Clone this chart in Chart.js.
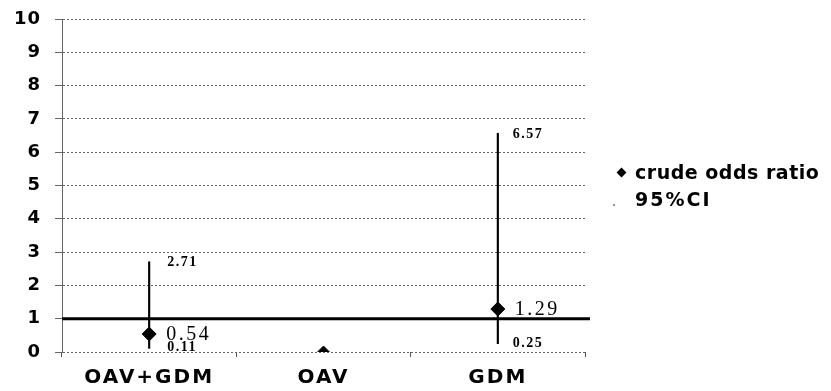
<!DOCTYPE html>
<html>
<head>
<meta charset="utf-8">
<script src="https://cdn.jsdelivr.net/npm/chart.js@4.4.1/dist/chart.umd.min.js"></script>
<style>
  html, body { margin:0; padding:0; background:#fff; }
  #wrap { position:relative; width:831px; height:391px; }
  canvas { position:absolute; left:0; top:0; }
  .leg { position:absolute; font-family:"DejaVu Sans", sans-serif; font-weight:bold; font-size:19px; line-height:22px; color:#000; white-space:nowrap; }
  .dia { position:absolute; width:7px; height:7px; background:#000; transform:rotate(45deg); }
  .dot { position:absolute; width:2px; height:2px; background:#999; }
</style>
</head>
<body>
<div id="wrap">
  <canvas id="c" width="831" height="391"></canvas>
  <div class="dia" style="left:618px; top:169px;"></div>
  <div class="leg" id="leg1" style="left:635px; top:161px; letter-spacing:0.5px;"></div>
  <div class="dot" style="left:613px; top:204px;"></div>
  <div class="leg" id="leg2" style="left:635px; top:188px; letter-spacing:2px;"></div>
</div>
<script>
const categories = ["OAV+GDM", "OAV", "GDM"];
const oddsRatio = [0.54, 0, 1.29];
const ciLower = [0.11, null, 0.25];
const ciUpper = [2.71, null, 6.57];
const referenceValue = 1;
const yTicks = [0,1,2,3,4,5,6,7,8,9,10];
const legendLabels = ["crude odds ratio", "95%CI"];

document.getElementById('leg1').textContent = legendLabels[0];
document.getElementById('leg2').textContent = legendLabels[1];

const ciData = categories.map((c, i) => ciLower[i] === null ? null : [ciLower[i], ciUpper[i]]);

const refLinePlugin = {
  id: 'refLine',
  afterDatasetsDraw(chart) {
    const y = chart.scales.y.getPixelForValue(referenceValue);
    const ctx = chart.ctx;
    ctx.save();
    ctx.strokeStyle = '#000';
    ctx.lineWidth = 3;
    ctx.beginPath();
    ctx.moveTo(chart.chartArea.left, y);
    ctx.lineTo(chart.chartArea.right + 5, y);
    ctx.stroke();
    ctx.restore();
  }
};

const spacingPlugin = {
  id: 'tickSpacing',
  afterLayout(chart) {
    const wrap = (scale, sp) => {
      if (scale._wrapped) return;
      const orig = scale.drawLabels.bind(scale);
      scale.drawLabels = function (area) {
        const ctx = chart.ctx;
        ctx.save();
        ctx.letterSpacing = sp;
        orig(area);
        ctx.restore();
      };
      scale._wrapped = true;
    };
    wrap(chart.scales.x, '2px');
    wrap(chart.scales.y, '1px');
  }
};

const labelPlugin = {
  id: 'valLabels',
  afterDraw(chart) {
    const ctx = chart.ctx;
    const ys = chart.scales.y;
    ctx.save();
    ctx.fillStyle = '#000';
    ctx.textBaseline = 'middle';
    ctx.textAlign = 'left';
    const barMeta = chart.getDatasetMeta(0);
    barMeta.data.forEach((el, i) => {
      if (ciLower[i] === null) return;
      const x = el.x + (i === 2 ? 15 : 18);
      ctx.font = 'bold 14px "Liberation Serif", serif';
      ctx.letterSpacing = '1.5px';
      ctx.fillText(ciUpper[i].toFixed(2), x, ys.getPixelForValue(ciUpper[i]) + 1);
      ctx.fillText(ciLower[i].toFixed(2), x, ys.getPixelForValue(ciLower[i]) + (i === 2 ? 0 : -1));
    });
    const ptMeta = chart.getDatasetMeta(1);
    ptMeta.data.forEach((el, i) => {
      if (ciLower[i] === null) return;
      ctx.font = '20px "Liberation Serif", serif';
      ctx.letterSpacing = '2.5px';
      ctx.fillText(oddsRatio[i].toFixed(2), el.x + 17, el.y + 1);
    });
    ctx.restore();
  }
};

new Chart(document.getElementById('c'), {
  type: 'bar',
  data: {
    labels: categories,
    datasets: [
      {
        type: 'bar',
        label: legendLabels[1],
        data: ciData,
        backgroundColor: '#000',
        barThickness: 1.5,
        order: 2
      },
      {
        type: 'line',
        label: legendLabels[0],
        data: oddsRatio,
        showLine: false,
        pointStyle: 'rectRot',
        pointRadius: oddsRatio.map(v => v === 0 ? 6 : 7),
        backgroundColor: '#000',
        borderColor: '#000',
        order: 1
      }
    ]
  },
  options: {
    responsive: false,
    animation: false,
    layout: { padding: { top: 19, right: 246, left: 0, bottom: 0 } },
    plugins: { legend: { display: false }, tooltip: { enabled: false } },
    scales: {
      x: {
        offset: true,
        grid: { offset: true, drawOnChartArea: false, drawTicks: true, tickLength: 5, color: '#555' },
        border: { display: false },
        ticks: { color: '#000', font: { family: '"DejaVu Sans", sans-serif', weight: 'bold', size: 20 }, padding: 9 },
        afterFit(s) { s.height = 39; s.paddingLeft = 0; s.paddingRight = 0; }
      },
      y: {
        min: 0, max: 10,
        afterBuildTicks(s) { s.ticks = yTicks.map(v => ({ value: v })); },
        grid: { color: '#666', lineWidth: 1, tickLength: 7 },
        border: { display: true, color: '#666', dash: [2, 2] },
        ticks: { color: '#000', font: { family: '"DejaVu Sans", sans-serif', weight: 'bold', size: 18 }, padding: 14 },
        afterFit(s) { s.width = 62; s.paddingTop = 0; s.paddingBottom = 0; }
      }
    }
  },
  plugins: [spacingPlugin, refLinePlugin, labelPlugin]
});
</script>
</body>
</html>
